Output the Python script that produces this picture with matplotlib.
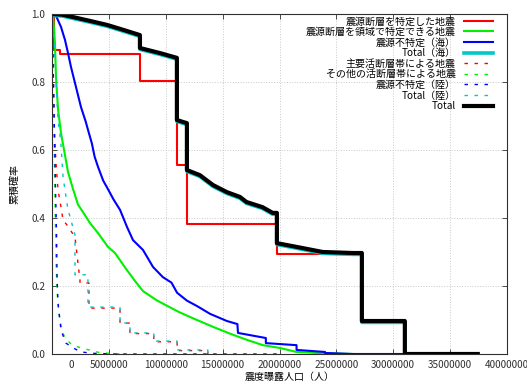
import numpy as np
import matplotlib
matplotlib.use("Agg")
import matplotlib.pyplot as plt
from matplotlib.transforms import ScaledTranslation

plt.rcParams['font.family'] = ['Noto Sans CJK JP', 'DejaVu Sans']
plt.rcParams['font.size'] = 7.2

# population in millions, y = cumulative probability
red_x = [0.18, 0.18, 0.7, 0.7, 7.73, 7.73, 10.98, 10.98, 11.86, 11.86, 19.77, 19.77, 26.4]
red_y = [1.0, 0.894, 0.894, 0.882, 0.882, 0.803, 0.803, 0.556, 0.556, 0.382, 0.382, 0.294, 0.294]

green_x = [0, 0.1, 0.26, 0.35, 0.53, 0.79, 1.14, 1.41, 1.85, 2.28, 2.9, 3.34, 4.04, 4.92, 5.54,
           6.41, 7.29, 8.0, 9.2, 10.1, 11.25, 12.74, 14.15, 15.64, 17.1, 18.54, 20.0, 21.5, 23.3, 26.45]
green_y = [1.0, 0.99, 0.915, 0.815, 0.72, 0.65, 0.585, 0.535, 0.485, 0.44, 0.408, 0.385, 0.356, 0.315, 0.297,
           0.255, 0.215, 0.185, 0.158, 0.142, 0.122, 0.1, 0.08, 0.06, 0.042, 0.026, 0.018, 0.006, 0.003, 0.0]

blue_x = [0, 0.35, 0.79, 1.14, 1.41, 1.67, 2.11, 2.55, 2.95, 3.2, 3.5, 3.75, 4.05, 4.5, 5.0, 5.4, 5.98,
          6.59, 7.12, 8.0, 8.88, 9.75, 10.5, 11.0, 11.86, 12.8, 13.9, 15.38, 16.3, 16.35, 18.8, 18.8,
          21.5, 21.5, 24.0, 24.0, 26.45, 31.02]
blue_y = [1.0, 0.995, 0.962, 0.924, 0.885, 0.844, 0.785, 0.726, 0.685, 0.655, 0.62, 0.58, 0.55, 0.51, 0.48,
          0.455, 0.424, 0.374, 0.335, 0.306, 0.256, 0.226, 0.21, 0.18, 0.157, 0.14, 0.118, 0.097, 0.088,
          0.062, 0.047, 0.032, 0.026, 0.012, 0.006, 0.003, 0.0, 0.0]

sea_x = [0, 0.9, 1.85, 3.3, 4.83, 6.3, 7.73, 7.73, 9.5, 10.98, 10.98, 11.86, 11.86, 13.0, 14.15, 15.38,
         16.52, 17.1, 18.5, 19.4, 19.77, 19.77, 21.5, 23.8, 26.5, 27.24, 27.24, 31.02, 31.02]
sea_y = [0.996, 0.994, 0.987, 0.976, 0.964, 0.949, 0.934, 0.896, 0.881, 0.867, 0.684, 0.675, 0.537, 0.522,
         0.493, 0.472, 0.458, 0.443, 0.428, 0.411, 0.411, 0.322, 0.311, 0.296, 0.293, 0.293, 0.093, 0.093, 0.0]

major_x = [0, 0.1, 0.2, 0.35, 0.53, 0.79, 0.97, 1.3, 1.6, 2.02, 2.28, 2.46, 2.46, 3.25, 3.25, 5.98, 5.98,
           6.85, 6.85, 8.95, 8.95, 11.0, 11.0, 13.7, 13.7]
major_y = [1.0, 0.85, 0.66, 0.562, 0.482, 0.432, 0.394, 0.38, 0.365, 0.344, 0.268, 0.218, 0.209, 0.209,
           0.135, 0.135, 0.091, 0.091, 0.06, 0.06, 0.036, 0.036, 0.01, 0.01, 0.0]

other_x = [0, 0.1, 0.2, 0.28, 0.35, 0.45, 0.6, 0.9, 1.2, 1.8, 2.9, 4.2, 6.0]
other_y = [1.0, 0.8, 0.6, 0.42, 0.28, 0.18, 0.12, 0.065, 0.045, 0.025, 0.015, 0.004, 0.0]

landu_x = [0, 0.1, 0.2, 0.3, 0.4, 0.45, 0.53, 0.79, 1.23, 1.85, 2.55, 3.6, 5.5, 20.0]
landu_y = [1.0, 0.85, 0.68, 0.5, 0.35, 0.22, 0.15, 0.07, 0.032, 0.018, 0.006, 0.002, 0.0, 0.0]

land_x = [0, 0.18, 0.35, 0.53, 0.7, 0.79, 0.97, 1.23, 1.41, 1.67, 1.85, 2.02, 2.02, 3.16, 3.16, 5.98,
          5.98, 6.85, 6.85, 8.95, 8.95, 11.0, 11.0, 13.7, 13.7]
land_y = [1.0, 0.924, 0.806, 0.688, 0.644, 0.615, 0.521, 0.462, 0.424, 0.394, 0.37, 0.35, 0.233, 0.233,
          0.138, 0.138, 0.091, 0.091, 0.062, 0.062, 0.038, 0.038, 0.012, 0.012, 0.0]

total_x = [0, 0.9, 1.85, 3.3, 4.83, 6.3, 7.73, 7.73, 9.5, 10.98, 10.98, 11.86, 11.86, 13.0, 14.15, 15.38,
           16.52, 17.1, 18.5, 19.4, 19.77, 19.77, 21.5, 23.8, 26.5, 27.24, 27.24, 31.02, 31.02, 37.43]
total_y = [1.0, 0.998, 0.991, 0.98, 0.968, 0.953, 0.938, 0.9, 0.885, 0.871, 0.688, 0.679, 0.541, 0.526,
           0.497, 0.476, 0.462, 0.447, 0.432, 0.415, 0.415, 0.326, 0.315, 0.3, 0.297, 0.297, 0.097, 0.097,
           0.0, 0.0]

labels = ['震源断層を特定した地震', '震源断層を領域で特定できる地震', '震源不特定（海）', 'Total（海）',
          '主要活断層帯による地震', 'その他の活断層帯による地震', '震源不特定（陸）', 'Total（陸）', 'Total']

xticks = [0, 5000000, 10000000, 15000000, 20000000, 25000000, 30000000, 35000000, 40000000]
xtick_labels = ['0', '5000000', '10000000', '15000000', '20000000', '25000000', '30000000', '35000000', '40000000']
yticks = [0.0, 0.2, 0.4, 0.6, 0.8, 1.0]
ytick_labels = ['0.0', '0.2', '0.4', '0.6', '0.8', '1.0']

fig = plt.figure(figsize=(5.27, 3.87), dpi=100)
ax = fig.add_axes([52/527, 33/387, 455/527, 340/387])

dash = (0, (2.5, 4.7))
series = [
    (red_x, red_y, '#ff0000', 1.5, '-'),
    (green_x, green_y, '#00f000', 1.5, '-'),
    (blue_x, blue_y, '#0000ff', 1.5, '-'),
    (sea_x, sea_y, '#00c8c8', 2.6, '-'),
    (major_x, major_y, '#ff0000', 1.0, dash),
    (other_x, other_y, '#00f000', 1.0, dash),
    (landu_x, landu_y, '#0000ff', 1.0, dash),
    (land_x, land_y, '#00c8c8', 1.0, dash),
    (total_x, total_y, '#000000', 3.0, '-'),
]
for (x, y, c, lw, ls), lab in zip(series, labels):
    ax.plot(np.array(x) * 1e6, y, color=c, lw=lw, ls=ls, label=lab)

ax.set_xlim(0, 40000000)
ax.set_ylim(0, 1.0)
ax.set_xticks(xticks)
ax.set_xticklabels(xtick_labels)
ax.set_yticks(yticks)
ax.set_yticklabels(ytick_labels)
ax.tick_params(direction='in', length=3.6, width=0.6, top=True, right=True, colors='#303030')
ax.tick_params(axis='x', pad=4)
ax.tick_params(axis='y', pad=5)
ax.grid(True, color='#c8c8c8', ls=':', lw=0.7)
for s in ax.spines.values():
    s.set_color('#303030')
    s.set_linewidth(0.8)

# the "0" label sits right of its tick in the original
lab0 = ax.get_xticklabels()[0]
lab0.set_transform(lab0.get_transform() + ScaledTranslation(0.19, 0, fig.dpi_scale_trans))

ax.set_xlabel('震度曝露人口（人）')
ax.xaxis.set_label_coords(0.523, -0.052)
ax.set_ylabel('累積確率', labelpad=8)

leg = ax.legend(loc='upper right', bbox_to_anchor=(0.969, 0.993), markerfirst=False, frameon=False,
                borderpad=0, borderaxespad=0, handlelength=2.9, handletextpad=0.8,
                labelspacing=0.06, fontsize=7.2)

fig.savefig('out.png', dpi=100)
